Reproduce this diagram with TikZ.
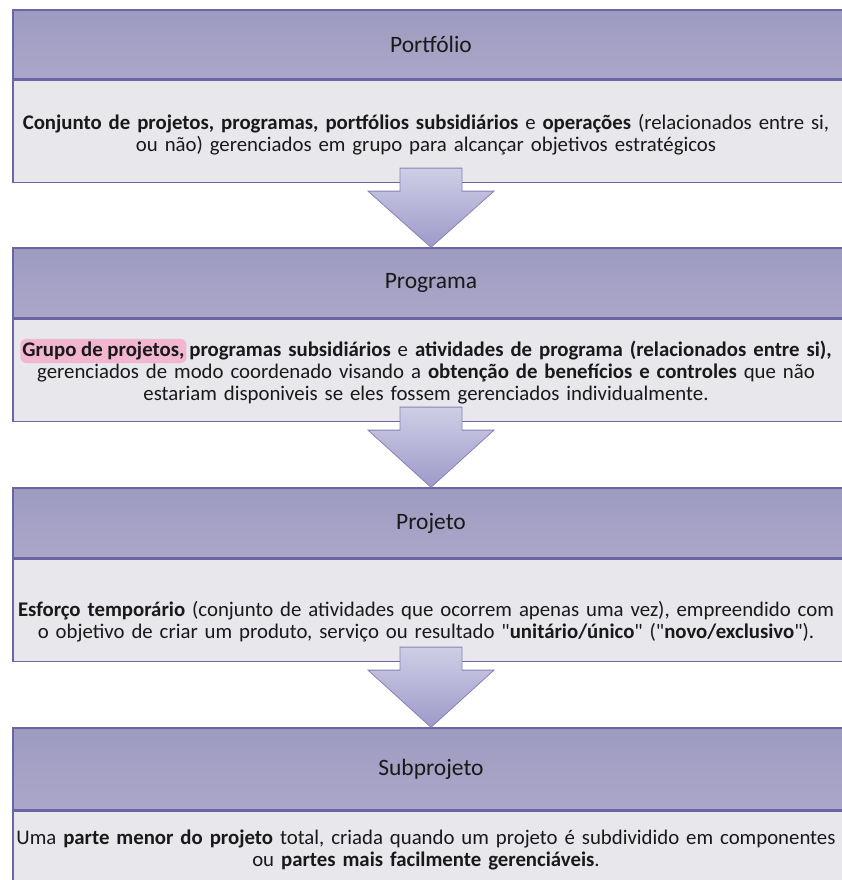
\documentclass[tikz,border=0pt]{standalone}
\usepackage{fontspec}
\setmainfont{Carlito}[Ligatures=TeXOff]
\usetikzlibrary{positioning,calc}
\definecolor{headfill}{HTML}{AAA7CA}
\definecolor{headtop}{HTML}{9E9BC0}
\definecolor{headline}{HTML}{6A66A6}
\definecolor{bodyfill}{HTML}{E7E7EC}
\definecolor{arrowtop}{HTML}{CFCEE6}
\definecolor{arrowbot}{HTML}{9D9AC8}
\definecolor{arrowline}{HTML}{8683B6}
\definecolor{hlpink}{HTML}{F2B6D0}
\newcommand{\hlmark}[1]{\tikz[baseline=(hl.base)]\node[fill=hlpink,rounded corners=6pt,inner xsep=2pt,inner ysep=3pt] (hl) {#1};}

\begin{document}
\begin{tikzpicture}[x=1pt,y=1pt,
head/.style={draw=headline,line width=1.4pt,top color=headtop,bottom color=headfill,minimum width=836pt,minimum height=70pt,inner sep=0pt,text=black!90,font=\fontsize{23.5}{26}\selectfont},
bodybox/.style={draw=headline,line width=1.4pt,fill=bodyfill,minimum width=836pt,minimum height=102pt,inner sep=0pt},
bodytext/.style={align=center,text width=834pt,inner sep=0pt,xshift=-5pt,text=black!90,font=\fontsize{20.8}{22}\selectfont},
blockarrow/.style={draw=arrowline,line width=0.8pt,top color=arrowtop,bottom color=arrowbot,line join=miter}]
\useasboundingbox (0,0) rectangle (842,-880);
\clip (0,0) rectangle (842,-880);
% levels
\node[head,minimum height=69pt] (portfolio) at (431,-44.5) {Portfólio};
\node[bodybox,below=0pt of portfolio] (portfoliobody) {};
\node[bodytext,below=34pt of portfolio] (portfoliotext) {\textbf{Conjunto de projetos, programas, portfólios subsidiários} e \textbf{operações} (relacionados entre si,\\ ou não) gerenciados em grupo para alcançar objetivos estratégicos};

\node[head] (programa) at (431,-283) {Programa};
\node[bodybox,below=0pt of programa] (programabody) {};
\node[bodytext,below=20pt of programa] (programatext) {\hlmark{\textbf{Grupo de projetos,}}\kern-4pt{} \textbf{programas subsidiários} e \textbf{atividades de programa (relacionados entre si),}\\ gerenciados de modo coordenado visando a \textbf{obtenção de benefícios e controles} que não\\ estariam disponiveis se eles fossem gerenciados individualmente.};

\node[head] (projeto) at (431,-523) {Projeto};
\node[bodybox,below=0pt of projeto] (projetobody) {};
\node[bodytext,below=42pt of projeto] (projetotext) {\textbf{Esforço temporário} (conjunto de atividades que ocorrem apenas uma vez), empreendido com\\ o objetivo de criar um produto, serviço ou resultado "\textbf{unitário/único}" ("\textbf{novo/exclusivo}").};

\node[head,minimum height=82pt] (subprojeto) at (431,-769) {Subprojeto};
\node[bodybox,below=0pt of subprojeto] (subprojetobody) {};
\node[bodytext,below=19pt of subprojeto] (subprojetotext) {Uma \textbf{parte menor do projeto} total, criada quando um projeto é subdividido em componentes\\ ou \textbf{partes mais facilmente gerenciáveis}.};

% block arrows between levels
\foreach \from/\to in {portfoliobody/programa,programabody/projeto,projetobody/subprojeto}
  \draw[blockarrow] ($(\from.south)+(-31,15)$) -- ($(\from.south)+(-31,-8)$) -- ($(\from.south)+(-63,-8)$)
    -- (\to.north) -- ($(\from.south)+(63,-8)$) -- ($(\from.south)+(31,-8)$) -- ($(\from.south)+(31,15)$) -- cycle;
\end{tikzpicture}
\end{document}
